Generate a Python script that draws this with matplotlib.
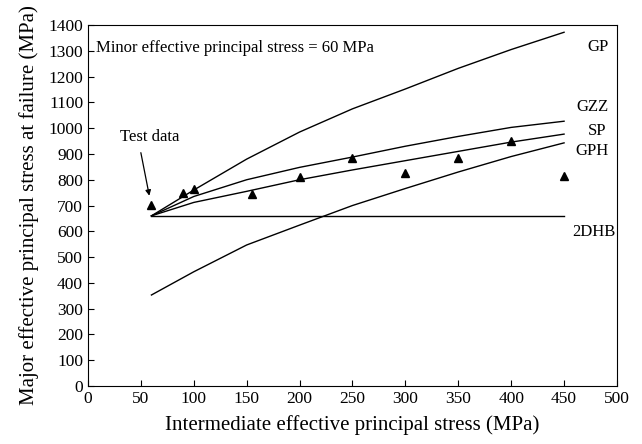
import matplotlib
matplotlib.use("Agg")
import matplotlib.pyplot as plt

plt.rcParams['font.family'] = ['Liberation Serif', 'DejaVu Serif']

# model curves (intermediate stress -> major stress at failure)
sigma2 = [60, 100, 150, 200, 250, 300, 350, 400, 450]
gp = [660, 760, 880, 985, 1075, 1152, 1232, 1305, 1372]
gzz = [660, 735, 800, 848, 888, 930, 968, 1003, 1027]
sp = [660, 712, 755, 800, 838, 874, 910, 946, 977]
gph = [353, 443, 547, 624, 700, 766, 830, 890, 943]
hb_x = [60, 450]
hb_y = [660, 660]

# test data
test_x = [60, 90, 100, 155, 200, 250, 300, 350, 400, 450]
test_y = [701, 748, 763, 744, 811, 886, 827, 886, 951, 814]

fig = plt.figure(figsize=(6.42, 4.44), dpi=100)
ax = fig.add_axes([0.137, 0.1306, 0.824, 0.813])

for yy in [gp, gzz, sp, gph]:
    ax.plot(sigma2, yy, color='black', lw=1.0)
ax.plot(hb_x, hb_y, color='black', lw=1.0)
ax.plot(test_x, test_y, linestyle='none', marker='^', color='black', markersize=6)

ax.text(482, 1314, 'GP', fontsize=12, ha='center', va='center')
ax.text(477, 1081, 'GZZ', fontsize=12, ha='center', va='center')
ax.text(481, 988, 'SP', fontsize=12, ha='center', va='center')
ax.text(476, 911, 'GPH', fontsize=12, ha='center', va='center')
ax.text(478, 597, '2DHB', fontsize=12, ha='center', va='center')
ax.text(8, 1310, 'Minor effective principal stress = 60 MPa', fontsize=12, va='center')

ax.text(30, 965, 'Test data', fontsize=12, va='center')
ax.annotate('', xy=(58, 738), xytext=(50, 905),
            arrowprops=dict(arrowstyle='-|>', color='black', lw=0.9,
                            shrinkA=0, shrinkB=0, mutation_scale=8))

ax.set_xlim(0, 500)
ax.set_ylim(0, 1400)
ax.set_xticks(range(0, 501, 50))
ax.set_yticks(range(0, 1401, 100))
ax.tick_params(direction='in', length=4, labelsize=12.5, top=False, right=False)
ax.set_xlabel('Intermediate effective principal stress (MPa)', fontsize=15, labelpad=6)
ax.set_ylabel('Major effective principal stress at failure (MPa)', fontsize=15, labelpad=7)

fig.savefig('out.png', dpi=100)
